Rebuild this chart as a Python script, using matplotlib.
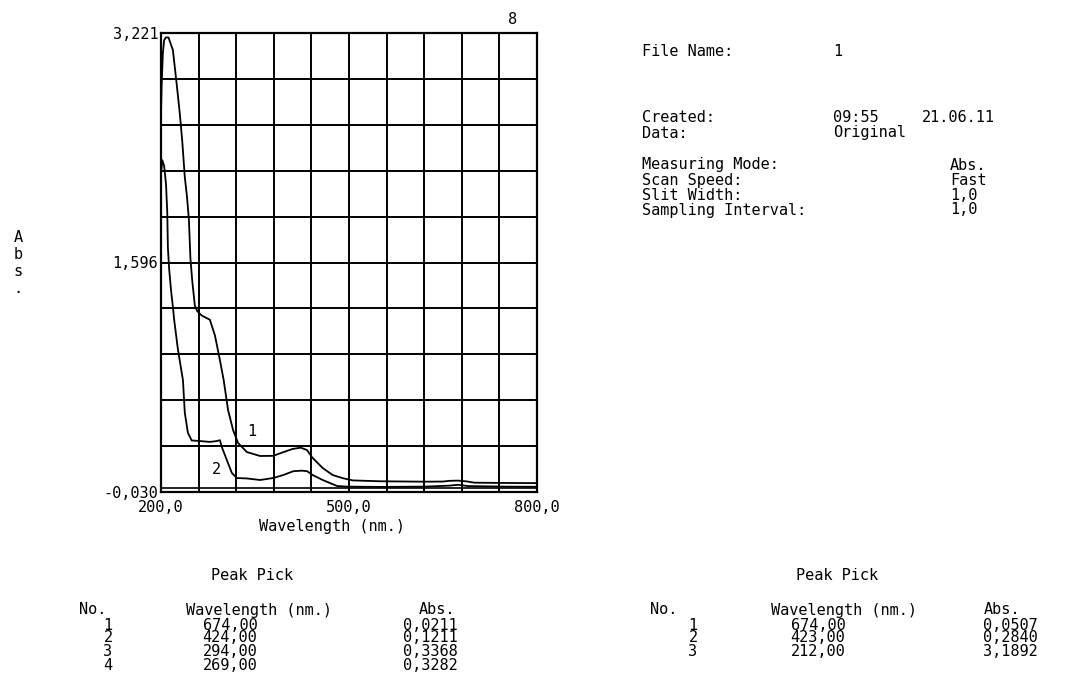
import matplotlib.pyplot as plt
import numpy as np

plt.rcParams['font.family'] = 'DejaVu Sans Mono'
plt.rcParams['font.size'] = 11

W, H = 1066, 680

# spectrum 1 (upper curve, main peak at 212 nm)
wl_1 = [200, 201, 203, 205, 208, 212, 215, 219, 222, 225.5, 230, 234, 238,
        241.5, 244.5, 247, 250, 254, 258, 265, 278, 286, 294, 300, 307, 315,
        323, 337, 358, 379, 395, 410, 423, 433, 442, 458, 474, 490, 506, 550,
        620, 650, 660, 674, 688, 700, 750, 800]
abs_1 = [2.65, 2.85, 3.08, 3.17, 3.19, 3.189, 3.15, 3.10, 2.98, 2.84, 2.65,
         2.45, 2.20, 2.06, 1.90, 1.62, 1.46, 1.29, 1.25, 1.22, 1.19, 1.08,
         0.905, 0.763, 0.551, 0.409, 0.317, 0.253, 0.225, 0.226, 0.252, 0.275,
         0.284, 0.267, 0.211, 0.140, 0.090, 0.068, 0.052, 0.046, 0.043, 0.044,
         0.049, 0.0507, 0.045, 0.036, 0.034, 0.033]

# spectrum 2 (lower curve)
wl_2 = [200, 202, 205, 208, 210, 211, 213, 216, 219, 221, 227, 235, 238, 243,
        249, 262, 269, 278, 288, 294, 297, 305, 313, 321, 337, 358, 379, 395,
        411, 424, 433, 442, 458, 481, 497, 550, 620, 660, 674, 690, 750, 800]
abs_2 = [2.22, 2.32, 2.28, 2.15, 1.95, 1.70, 1.55, 1.40, 1.28, 1.19, 0.98,
         0.763, 0.53, 0.388, 0.335, 0.331, 0.3282, 0.325, 0.330, 0.3368, 0.289,
         0.197, 0.105, 0.069, 0.066, 0.055, 0.069, 0.090, 0.117, 0.1211, 0.118,
         0.090, 0.055, 0.0125, 0.008, 0.006, 0.008, 0.015, 0.0211, 0.012,
         0.008, 0.007]

x_ticks = [200, 500, 800]
x_tick_labels = ['200,0', '500,0', '800,0']
y_ticks = [-0.030, 1.5955, 3.221]
y_tick_labels = ['-0,030', '1,596', '3,221']

info_rows = [
    ('File Name:', 52, [('1', 833)]),
    ('Created:', 118, [('09:55', 833), ('21.06.11', 922)]),
    ('Data:', 133, [('Original', 833)]),
    ('Measuring Mode:', 165, [('Abs.', 950)]),
    ('Scan Speed:', 181, [('Fast', 950)]),
    ('Slit Width:', 196, [('1,0', 950)]),
    ('Sampling Interval:', 210, [('1,0', 950)]),
]

# peak pick tables
peaks_left_nm = ['674,00', '424,00', '294,00', '269,00']
peaks_left_abs = ['0,0211', '0,1211', '0,3368', '0,3282']
peaks_right_nm = ['674,00', '423,00', '212,00']
peaks_right_abs = ['0,0507', '0,2840', '3,1892']


def fig_xy(x, y):
    return x / W, 1 - y / H


fig = plt.figure(figsize=(W / 100, H / 100), dpi=100)
ax = fig.add_axes([161 / W, 1 - 492 / H, 376 / W, 459 / H])

ax.plot(wl_1, abs_1, color='black', lw=1.3)
ax.plot(wl_2, abs_2, color='black', lw=1.3)
ax.axhline(0, color='black', lw=1.2)

ax.set_xlim(200, 800)
ax.set_ylim(-0.030, 3.221)
ax.set_xticks(x_ticks)
ax.set_xticklabels(x_tick_labels)
ax.set_yticks(y_ticks)
ax.set_yticklabels(y_tick_labels)
ax.set_xticks(np.linspace(200, 800, 11), minor=True)
ax.set_yticks(np.linspace(-0.030, 3.221, 11), minor=True)
ax.grid(which='both', color='black', lw=1.4)
ax.tick_params(which='both', length=0)
ax.tick_params(axis='x', pad=6)
ax.tick_params(axis='y', pad=2)
for s in ax.spines.values():
    s.set_linewidth(1.6)

ax.text(345, 0.395, '1', ha='center', va='center')
ax.text(288, 0.126, '2', ha='center', va='center')

fig.text(*fig_xy(332, 527), 'Wavelength (nm.)', ha='center', va='center')
fig.text(*fig_xy(18, 263), 'A\nb\ns\n.', ha='center', va='center', linespacing=1.15)
fig.text(*fig_xy(513, 20), '8', ha='center', va='center')

for label, y, vals in info_rows:
    fig.text(*fig_xy(642, y), label, ha='left', va='center')
    for v, x in vals:
        fig.text(*fig_xy(x, y), v, ha='left', va='center')


def peak_table(cx_title, cx_no, cx_wl, cx_abs, cx_wl_v, cx_abs_v, num, vals_nm, vals_abs):
    fig.text(*fig_xy(cx_title, 575), 'Peak Pick', ha='center', va='center')
    fig.text(*fig_xy(cx_no, 610), 'No.', ha='center', va='center')
    fig.text(*fig_xy(cx_wl, 610), 'Wavelength (nm.)', ha='center', va='center')
    fig.text(*fig_xy(cx_abs, 610), 'Abs.', ha='center', va='center')
    rows_y = [625, 638, 652, 666]
    for i, (nm, a) in enumerate(zip(vals_nm, vals_abs)):
        y = rows_y[i]
        fig.text(*fig_xy(num, y), str(i + 1), ha='center', va='center')
        fig.text(*fig_xy(cx_wl_v, y), nm, ha='center', va='center')
        fig.text(*fig_xy(cx_abs_v, y), a, ha='center', va='center')


peak_table(252, 93, 259, 437, 230, 430, 108, peaks_left_nm, peaks_left_abs)
peak_table(837, 664, 844, 1002, 818, 1010, 693, peaks_right_nm, peaks_right_abs)

fig.savefig('out.png', dpi=100)
